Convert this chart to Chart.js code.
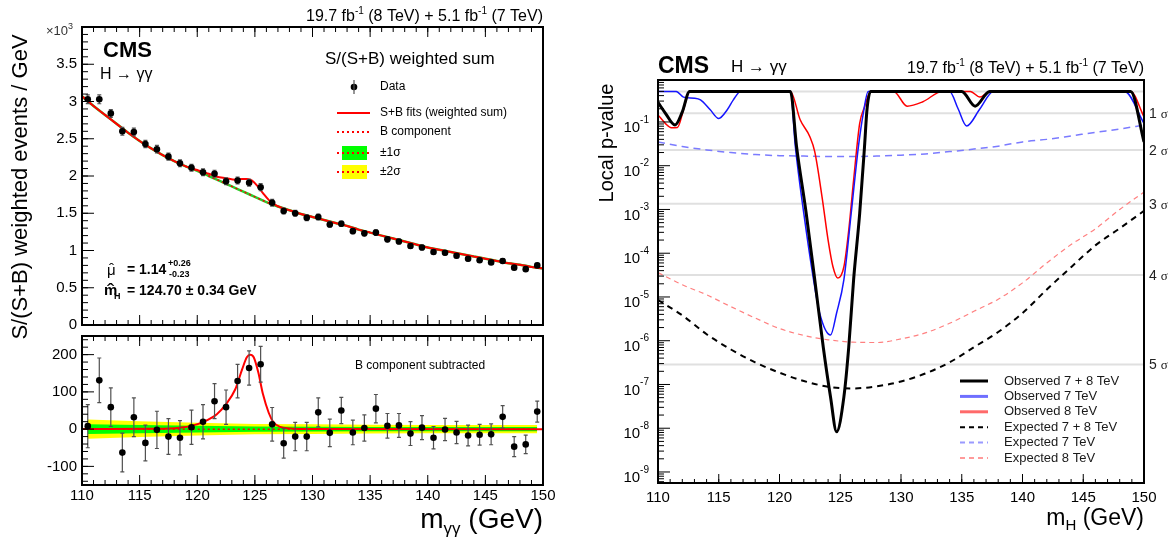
<!DOCTYPE html>
<html>
<head>
<meta charset="utf-8">
<script src="https://cdn.jsdelivr.net/npm/chart.js@4.4.0/dist/chart.umd.min.js"></script>
<style>
    html, body { margin: 0; padding: 0; background: #fff; }
    #page { position: relative; width: 1171px; height: 541px; overflow: hidden; background: #fff; }
    canvas { position: absolute; }
    #topChart { left: 0; top: 0; }
    #ratioChart { left: 0; top: 330px; }
    #pvalChart { left: 585px; top: 0; }
</style>
</head>
<body>
<div id="page">
    <canvas id="topChart" width="560" height="350"></canvas>
    <canvas id="ratioChart" width="560" height="211"></canvas>
    <canvas id="pvalChart" width="586" height="541"></canvas>
</div>
<script>
const FONT = '"Liberation Sans", Arial, Helvetica, sans-serif';

// ---- left: S/(S+B) weighted diphoton mass, 1 GeV bins ----
const massBins = [110.5, 111.5, 112.5, 113.5, 114.5, 115.5, 116.5, 117.5, 118.5, 119.5,
    120.5, 121.5, 122.5, 123.5, 124.5, 125.5, 126.5, 127.5, 128.5, 129.5,
    130.5, 131.5, 132.5, 133.5, 134.5, 135.5, 136.5, 137.5, 138.5, 139.5,
    140.5, 141.5, 142.5, 143.5, 144.5, 145.5, 146.5, 147.5, 148.5, 149.5];
// x10^3 weighted events / GeV
const weightedEvents = [3.03, 3.03, 2.84, 2.60, 2.59, 2.43, 2.36, 2.26, 2.17, 2.11,
    2.05, 2.03, 1.93, 1.94, 1.91, 1.85, 1.64, 1.53, 1.50, 1.44,
    1.45, 1.35, 1.36, 1.26, 1.23, 1.24, 1.15, 1.12, 1.06, 1.04,
    0.98, 0.97, 0.93, 0.89, 0.87, 0.84, 0.86, 0.77, 0.75, 0.80];
// B component subtracted, events / GeV
const bkgSubtracted = [8, 131, 59, -63, 32, -37, -2, -20, -23, 5,
    20, 75, 59, 129, 164, 174, 13, -38, -20, -20,
    45, -10, 50, -9, 3, 55, 9, 10, -12, 4,
    -23, -1, -9, -17, -15, -14, 33, -47, -41, 47];
const statErrors = [58, 60, 52, 52, 52, 48, 50, 48, 46, 46,
    46, 47, 46, 45, 46, 48, 45, 40, 38, 38,
    39, 37, 35, 33, 35, 38, 33, 32, 32, 32,
    30, 30, 30, 28, 28, 28, 30, 27, 25, 28];

const bkgMass = [110, 111, 112, 113, 114, 115, 116, 117, 118, 119, 120, 121, 122, 123, 124, 125,
    126, 127, 128, 129, 130, 131, 132, 133, 134, 135, 136, 137, 138, 139, 140, 141, 142,
    143, 144, 145, 146, 147, 148, 149, 150];
const bkgFit = [3.07, 2.94, 2.82, 2.70, 2.58, 2.47, 2.37, 2.28, 2.20, 2.13, 2.07, 2.00, 1.93,
    1.86, 1.79, 1.72, 1.65, 1.59, 1.54, 1.49, 1.45, 1.41, 1.37, 1.33, 1.28, 1.24, 1.20,
    1.16, 1.12, 1.08, 1.04, 1.01, 0.98, 0.95, 0.92, 0.89, 0.86, 0.83, 0.81, 0.78, 0.76];

const fitMass = [110, 111, 112, 113, 114, 115, 116, 117, 118, 119, 120,
    120.5, 121, 121.7, 122.5, 123.3, 123.9, 124.3, 124.6, 124.9, 125.3, 125.7, 126.2,
    126.6, 127.2, 128, 129,
    130, 131, 132, 133, 134, 135, 136, 137, 138, 139, 140, 141, 142, 143, 144, 145,
    146, 147, 148, 149, 150];
const sbFit = [3.07, 2.94, 2.82, 2.70, 2.58, 2.47, 2.37, 2.28, 2.20, 2.13, 2.08,
    2.05, 2.03, 1.99, 1.97, 1.95, 1.96, 1.96, 1.95, 1.92, 1.85, 1.77, 1.68,
    1.63, 1.58, 1.54, 1.49,
    1.45, 1.41, 1.37, 1.33, 1.28, 1.24, 1.20, 1.16, 1.12, 1.08, 1.04, 1.01, 0.98, 0.95,
    0.92, 0.89, 0.86, 0.83, 0.81, 0.78, 0.76];

const sigMass = [110, 116, 117.6, 118.5, 119.4, 120.5, 121.7, 122.5, 123.3, 123.9, 124.3,
    124.6, 124.9, 125.3, 125.7, 126.2, 126.6, 127.2, 128, 129, 150];
const sigFit = [0, 1, 2, 4, 8, 19, 40, 67, 107, 161, 193, 200, 193, 152, 94, 44, 19, 6, 2, 0.5, 0];

const bandMass = [110.5, 115, 120, 125, 130, 135, 140, 145, 149.5];
const band1Sigma = [13, 11, 9, 7, 6.5, 6, 5.5, 5.5, 5.5];
const band2Sigma = [26, 21, 17, 14, 13, 12, 11, 11, 11];

// ---- right: local p-value ----
const obs78Mass = [110, 110.6, 111.4, 112.0, 112.6, 120.9, 121.4, 122.2, 122.9, 123.6, 124.2,
    124.7, 125.3, 125.7, 126.1, 126.6, 127.0, 127.2, 127.5, 135.0, 136.1, 137.3, 148.9, 150];
const obs78P = [0.28, 0.16, 0.085, 0.17, 0.5, 0.5, 0.028, 8.1e-4, 2.5e-5, 7.2e-7, 5.2e-8,
    8.3e-9, 5.2e-8, 7.2e-7, 2.5e-5, 8.1e-4, 0.028, 0.19, 0.5, 0.5, 0.23, 0.5, 0.5, 0.035];

const obs7Mass = [110, 111.5, 112.1, 113.0, 113.5, 114.3, 115.0, 115.7, 116.2, 116.8, 120.9,
    121.3, 122.0, 122.8, 123.3, 124.2, 124.7, 125.3, 125.9, 126.5, 126.9, 127.3, 134.0,
    134.7, 135.4, 136.5, 137.6, 148.4, 150];
const obs7P = [0.5, 0.5, 0.37, 0.35, 0.32, 0.19, 0.12, 0.19, 0.32, 0.5, 0.5,
    0.028, 8.1e-4, 2.5e-5, 4.3e-6, 1.35e-6, 4.3e-6, 2.5e-5, 8.1e-4, 0.028, 0.16, 0.5, 0.5,
    0.2, 0.081, 0.2, 0.5, 0.5, 0.093];

const obs8Mass = [110, 110.6, 111.1, 111.6, 112.1, 112.6, 120.9, 121.7, 122.5, 122.9, 123.5,
    124.0, 124.4, 124.8, 125.3, 125.7, 126.1, 126.6, 127.0, 127.5, 129.4, 130.5, 131.8,
    133.4, 135.7, 136.5, 137.3, 148.9, 150];
const obs8P = [0.145, 0.093, 0.074, 0.075, 0.19, 0.5, 0.5, 0.112, 0.046, 0.021, 1.95e-3,
    2.0e-4, 4.9e-5, 2.7e-5, 4.9e-5, 3.4e-4, 4.7e-3, 0.093, 0.22, 0.5, 0.5, 0.23, 0.29,
    0.5, 0.5, 0.37, 0.5, 0.5, 0.13];

const expMass = [110, 112, 114, 116, 118, 120, 122, 124, 126, 128, 130, 132, 134, 136, 138,
    140, 142, 144, 146, 148, 150];
const exp78P = [8.5e-6, 3.8e-6, 1.41e-6, 6.3e-7, 3.2e-7, 1.86e-7, 1.2e-7, 8.9e-8, 8.1e-8,
    9.1e-8, 1.17e-7, 1.78e-7, 3.2e-7, 7.1e-7, 1.58e-6, 4.3e-6, 1.48e-5, 4.8e-5, 1.51e-4,
    3.7e-4, 9.3e-4];
const exp7P = [0.035, 0.0275, 0.023, 0.020, 0.018, 0.017, 0.0166, 0.0162, 0.0162, 0.0166,
    0.0174, 0.0186, 0.021, 0.024, 0.028, 0.035, 0.040, 0.048, 0.058, 0.069, 0.085];
const exp8P = [3.6e-5, 1.9e-5, 1.12e-5, 6.0e-6, 3.3e-6, 1.9e-6, 1.32e-6, 1.05e-6, 9.3e-7,
    9.1e-7, 1.1e-6, 1.51e-6, 2.5e-6, 4.7e-6, 8.9e-6, 2.1e-5, 6.0e-5, 1.58e-4, 3.6e-4,
    1.0e-3, 2.5e-3];

const sigmaLevels = [0.5, 0.1587, 0.02275, 1.35e-3, 3.17e-5, 2.87e-7];
const sigmaNames = ['', '1', '2', '3', '4', '5'];

const legendItems = [
    ['Observed 7 + 8 TeV', '#000000', 3, []],
    ['Observed 7 TeV', '#6f6fff', 3, []],
    ['Observed 8 TeV', '#ff6a6a', 3, []],
    ['Expected 7 + 8 TeV', '#000000', 2, [5, 4]],
    ['Expected 7 TeV', '#9a9aff', 2, [5, 4]],
    ['Expected 8 TeV', '#ff9a9a', 2, [5, 4]]
];

function pts(xs, ys) {
    return xs.map((x, i) => ({ x: x, y: ys[i] }));
}

function steps(from, to, step) {
    const out = [];
    for (let i = 0; from + i * step <= to + 1e-9; i++) out.push(+(from + i * step).toFixed(4));
    return out;
}

// draws text made of pieces with their own font and vertical shift
function richText(ctx, parts, x, y, align) {
    let w = 0;
    parts.forEach(p => { ctx.font = p.font; w += ctx.measureText(p.t).width; });
    let cx = align === 'right' ? x - w : (align === 'center' ? x - w / 2 : x);
    ctx.textAlign = 'left';
    ctx.textBaseline = 'alphabetic';
    parts.forEach(p => {
        ctx.font = p.font;
        ctx.fillText(p.t, cx, y + (p.dy || 0));
        cx += ctx.measureText(p.t).width;
    });
}

function lumiText(ctx, x, y, size) {
    const big = size + 'px ' + FONT, small = Math.round(size * 0.62) + 'px ' + FONT;
    const up = -Math.round(size * 0.42);
    richText(ctx, [
        { t: '19.7 fb', font: big }, { t: '-1', font: small, dy: up },
        { t: ' (8 TeV) + 5.1 fb', font: big }, { t: '-1', font: small, dy: up },
        { t: ' (7 TeV)', font: big }
    ], x, y, 'right');
}

function tickMarks(ctx, scale, values, len, side, area) {
    values.forEach(v => {
        const p = scale.getPixelForValue(v);
        ctx.beginPath();
        if (side === 'bottom') { ctx.moveTo(p, area.bottom); ctx.lineTo(p, area.bottom - len); }
        if (side === 'top') { ctx.moveTo(p, area.top); ctx.lineTo(p, area.top + len); }
        if (side === 'left') { ctx.moveTo(area.left, p); ctx.lineTo(area.left + len, p); }
        ctx.stroke();
    });
}

function dottedRed(ctx, x1, x2, y) {
    ctx.save();
    ctx.strokeStyle = '#ff0000';
    ctx.lineWidth = 2;
    ctx.setLineDash([2, 3]);
    ctx.beginPath(); ctx.moveTo(x1, y); ctx.lineTo(x2, y); ctx.stroke();
    ctx.restore();
}

// error bars go right before the markers (dataset 0 is drawn last)
const errorBars = {
    id: 'errorBars',
    beforeDatasetDraw(chart, args, opts) {
        if (args.index !== 0 || !opts.errors) return;
        const { ctx, scales: { x, y } } = chart;
        ctx.save();
        ctx.strokeStyle = '#505050';
        ctx.lineWidth = 1.2;
        chart.data.datasets[0].data.forEach((pt, i) => {
            const px = x.getPixelForValue(pt.x);
            const lo = y.getPixelForValue(pt.y - opts.errors[i] * opts.scale);
            const hi = y.getPixelForValue(pt.y + opts.errors[i] * opts.scale);
            ctx.beginPath();
            ctx.moveTo(px, lo); ctx.lineTo(px, hi);
            ctx.moveTo(px - 2, lo); ctx.lineTo(px + 2, lo);
            ctx.moveTo(px - 2, hi); ctx.lineTo(px + 2, hi);
            ctx.stroke();
        });
        ctx.restore();
    }
};

// frame, inside ticks and y labels of the two left pads
const leftPad = {
    id: 'leftPad',
    afterDatasetsDraw(chart, args, opts) {
        const { ctx, chartArea: a, scales: { x, y } } = chart;
        ctx.save();
        ctx.strokeStyle = '#000';
        ctx.lineWidth = 1;
        tickMarks(ctx, x, steps(110, 150, 1), 5, 'bottom', a);
        tickMarks(ctx, x, steps(110, 150, 5), 10, 'bottom', a);
        tickMarks(ctx, x, steps(110, 150, 1), 5, 'top', a);
        tickMarks(ctx, x, steps(110, 150, 5), 10, 'top', a);
        tickMarks(ctx, y, opts.yMinor, 6, 'left', a);
        tickMarks(ctx, y, opts.yMajor, 12, 'left', a);
        ctx.lineWidth = 2;
        ctx.strokeRect(a.left, a.top, a.right - a.left, a.bottom - a.top);

        ctx.fillStyle = '#000';
        ctx.font = '15px ' + FONT;
        ctx.textAlign = 'right';
        ctx.textBaseline = 'middle';
        opts.yLabels.forEach(v => ctx.fillText(String(v), a.left - 5, y.getPixelForValue(v)));
        ctx.restore();
        if (opts.extra) opts.extra(chart);
    }
};

function topExtras(chart) {
    const ctx = chart.ctx;
    ctx.save();
    ctx.fillStyle = '#000';
    lumiText(ctx, 543, 21, 16);

    // x10^3
    ctx.fillStyle = '#333';
    richText(ctx, [{ t: '\u00d710', font: '13px ' + FONT }, { t: '3', font: '9px ' + FONT, dy: -6 }], 46, 35, 'left');
    ctx.fillStyle = '#000';

    ctx.font = 'bold 22px ' + FONT;
    ctx.textAlign = 'left';
    ctx.fillText('CMS', 103, 57);
    ctx.font = '16px ' + FONT;
    ctx.fillText('H \u2192 \u03b3\u03b3', 100, 79);

    ctx.font = '17px ' + FONT;
    ctx.fillText('S/(S+B) weighted sum', 325, 64);

    // legend
    ctx.font = '12px ' + FONT;
    ctx.textBaseline = 'middle';
    ctx.fillText('Data', 380, 87);
    ctx.fillText('S+B fits (weighted sum)', 380, 113);
    ctx.fillText('B component', 380, 132);
    ctx.fillText('\u00b11\u03c3', 380, 153);
    ctx.fillText('\u00b12\u03c3', 380, 172);
    ctx.beginPath(); ctx.arc(354, 87, 3.3, 0, Math.PI * 2); ctx.fill();
    ctx.strokeStyle = '#505050'; ctx.lineWidth = 1.2;
    ctx.beginPath(); ctx.moveTo(354, 80); ctx.lineTo(354, 94); ctx.stroke();
    ctx.strokeStyle = '#ff0000'; ctx.lineWidth = 2;
    ctx.beginPath(); ctx.moveTo(337, 113); ctx.lineTo(370, 113); ctx.stroke();
    dottedRed(ctx, 337, 370, 132);
    ctx.fillStyle = '#00ff00'; ctx.fillRect(342, 146, 25, 14);
    dottedRed(ctx, 337, 370, 153);
    ctx.fillStyle = '#ffff00'; ctx.fillRect(342, 165, 25, 14);
    dottedRed(ctx, 337, 370, 172);

    // fit result
    ctx.fillStyle = '#000';
    ctx.textBaseline = 'alphabetic';
    ctx.font = '15px ' + FONT;
    ctx.fillText('\u03bc', 107, 275);
    ctx.fillText('\u02c6', 109, 274);
    ctx.font = 'bold 14px ' + FONT;
    ctx.fillText('= 1.14', 127, 274);
    ctx.font = 'bold 9px ' + FONT;
    ctx.fillText('+0.26', 168, 266);
    ctx.fillText('-0.23', 169, 277);
    ctx.font = 'bold 15px ' + FONT;
    ctx.fillText('m', 104, 295);
    ctx.font = '22px ' + FONT;
    ctx.fillText('\u02c6', 107, 299);
    ctx.font = 'bold 9px ' + FONT;
    ctx.fillText('H', 114, 299);
    ctx.font = 'bold 14px ' + FONT;
    ctx.fillText('= 124.70 \u00b1 0.34 GeV', 127, 295);

    // y title
    ctx.translate(21, 187);
    ctx.rotate(-Math.PI / 2);
    ctx.font = '22px ' + FONT;
    ctx.textAlign = 'center';
    ctx.textBaseline = 'middle';
    ctx.fillText('S/(S+B) weighted events / GeV', 0, 0);
    ctx.restore();
}

function ratioExtras(chart) {
    const { ctx, chartArea: a, scales: { x } } = chart;
    ctx.save();
    ctx.fillStyle = '#000';
    ctx.font = '15px ' + FONT;
    ctx.textAlign = 'center';
    ctx.textBaseline = 'middle';
    steps(110, 150, 5).forEach(v => ctx.fillText(String(v), x.getPixelForValue(v), a.bottom + 11));
    ctx.font = '12px ' + FONT;
    ctx.textAlign = 'left';
    ctx.fillText('B component subtracted', 355, 36);
    richText(ctx, [
        { t: 'm', font: '28px ' + FONT },
        { t: '\u03b3\u03b3', font: '17px ' + FONT, dy: 6 },
        { t: ' (GeV)', font: '28px ' + FONT }
    ], a.right, 198, 'right');
    ctx.restore();
}

const commonOpts = {
    responsive: false,
    animation: false,
    events: [],
    plugins: { legend: { display: false }, tooltip: { enabled: false } }
};

new Chart(document.getElementById('topChart'), {
    type: 'line',
    data: {
        datasets: [
            { data: pts(massBins, weightedEvents), showLine: false, pointRadius: 3.3,
              pointBackgroundColor: '#000', pointBorderColor: '#000', pointBorderWidth: 0 },
            { data: pts(fitMass, sbFit), borderColor: '#ff0000', borderWidth: 2, pointRadius: 0,
              cubicInterpolationMode: 'monotone' },
            { data: pts(bkgMass, bkgFit), borderColor: '#ff0000', borderWidth: 1.5, borderDash: [2, 3],
              pointRadius: 0, cubicInterpolationMode: 'monotone' },
            { data: pts(bkgMass, bkgFit), borderColor: '#2ccc2c', borderWidth: 2.5, pointRadius: 0,
              cubicInterpolationMode: 'monotone' }
        ]
    },
    options: Object.assign({}, commonOpts, {
        layout: { padding: { left: 82, right: 17, top: 27, bottom: 25 } },
        scales: {
            x: { type: 'linear', min: 110, max: 150, display: false },
            y: { type: 'linear', min: 0, max: 4, display: false }
        },
        plugins: Object.assign({}, commonOpts.plugins, {
            errorBars: { errors: statErrors, scale: 0.001 },
            leftPad: {
                yMajor: steps(0, 4, 0.5), yMinor: steps(0, 4, 0.1),
                yLabels: [0, 0.5, 1, 1.5, 2, 2.5, 3, 3.5], extra: topExtras
            }
        })
    }),
    plugins: [errorBars, leftPad]
});

new Chart(document.getElementById('ratioChart'), {
    type: 'line',
    data: {
        datasets: [
            { data: pts(massBins, bkgSubtracted), showLine: false, pointRadius: 3.3,
              pointBackgroundColor: '#000', pointBorderColor: '#000', pointBorderWidth: 0 },
            { data: pts(sigMass, sigFit), borderColor: '#ff0000', borderWidth: 2, pointRadius: 0,
              cubicInterpolationMode: 'monotone' },
            { data: bandMass.map(m => ({ x: m, y: 0 })), borderColor: '#ff0000', borderWidth: 1.5,
              borderDash: [2, 3], pointRadius: 0 },
            { data: pts(bandMass, band1Sigma), borderWidth: 0, pointRadius: 0, fill: '+1',
              backgroundColor: '#00ff00' },
            { data: bandMass.map((m, i) => ({ x: m, y: -band1Sigma[i] })), borderWidth: 0, pointRadius: 0 },
            { data: pts(bandMass, band2Sigma), borderWidth: 0, pointRadius: 0, fill: '+1',
              backgroundColor: '#ffff00' },
            { data: bandMass.map((m, i) => ({ x: m, y: -band2Sigma[i] })), borderWidth: 0, pointRadius: 0 }
        ]
    },
    options: Object.assign({}, commonOpts, {
        layout: { padding: { left: 82, right: 17, top: 6, bottom: 56 } },
        scales: {
            x: { type: 'linear', min: 110, max: 150, display: false },
            y: { type: 'linear', min: -150, max: 250, display: false }
        },
        plugins: Object.assign({}, commonOpts.plugins, {
            errorBars: { errors: statErrors, scale: 1 },
            leftPad: {
                yMajor: steps(-100, 200, 100), yMinor: steps(-140, 240, 20),
                yLabels: [-100, 0, 100, 200], extra: ratioExtras
            }
        })
    }),
    plugins: [errorBars, leftPad]
});

const pvalPad = {
    id: 'pvalPad',
    beforeDatasetsDraw(chart) {
        const { ctx, chartArea: a, scales: { y } } = chart;
        ctx.save();
        ctx.strokeStyle = '#e0e0e0';
        ctx.lineWidth = 2;
        sigmaLevels.forEach(p => {
            const py = y.getPixelForValue(p);
            ctx.beginPath(); ctx.moveTo(a.left, py); ctx.lineTo(a.right, py); ctx.stroke();
        });
        ctx.restore();
    },
    afterDatasetsDraw(chart) {
        const { ctx, chartArea: a, scales: { x, y } } = chart;
        ctx.save();
        ctx.strokeStyle = '#000';
        ctx.lineWidth = 1;
        tickMarks(ctx, x, steps(110, 150, 1), 4, 'bottom', a);
        tickMarks(ctx, x, steps(110, 150, 5), 9, 'bottom', a);
        const minor = [], major = [];
        for (let n = -10; n <= -1; n++) {
            for (let k = 1; k <= 9; k++) {
                const v = k * Math.pow(10, n);
                if (v < y.min || v > y.max) continue;
                (k === 1 ? major : minor).push(v);
            }
        }
        tickMarks(ctx, y, minor, 6, 'left', a);
        tickMarks(ctx, y, major, 12, 'left', a);
        ctx.lineWidth = 2;
        ctx.strokeRect(a.left, a.top, a.right - a.left, a.bottom - a.top);

        ctx.fillStyle = '#000';
        ctx.font = '15px ' + FONT;
        ctx.textAlign = 'center';
        ctx.textBaseline = 'middle';
        steps(110, 150, 5).forEach(v => ctx.fillText(String(v), x.getPixelForValue(v), a.bottom + 15));

        ctx.textAlign = 'right';
        major.forEach(v => {
            const py = y.getPixelForValue(v);
            const sup = String(Math.round(Math.log10(v)));
            ctx.font = '10px ' + FONT;
            const sw = ctx.measureText(sup).width;
            ctx.fillText(sup, a.left - 9, py - 2);
            ctx.font = '15px ' + FONT;
            ctx.fillText('10', a.left - 9 - sw, py + 6);
        });

        ctx.fillStyle = '#222';
        sigmaLevels.forEach((p, i) => {
            if (!sigmaNames[i]) return;
            richText(ctx, [
                { t: sigmaNames[i] + ' ', font: '14px ' + FONT },
                { t: '\u03c3', font: '13px "Liberation Serif", serif' }
            ], a.right + 5, y.getPixelForValue(p) + 5, 'left');
        });

        // legend
        ctx.font = '13px ' + FONT;
        legendItems.forEach((item, i) => {
            const ly = 381 + i * 15.4;
            ctx.save();
            ctx.strokeStyle = item[1];
            ctx.lineWidth = item[2];
            ctx.setLineDash(item[3]);
            ctx.beginPath(); ctx.moveTo(375, ly); ctx.lineTo(403, ly); ctx.stroke();
            ctx.restore();
            ctx.fillStyle = '#1a1a1a';
            ctx.font = '13px ' + FONT;
            ctx.textAlign = 'left';
            ctx.textBaseline = 'middle';
            ctx.fillText(item[0], 419, ly);
        });

        // header
        ctx.fillStyle = '#000';
        ctx.textBaseline = 'alphabetic';
        ctx.textAlign = 'left';
        ctx.font = 'bold 23px ' + FONT;
        ctx.fillText('CMS', a.left, 73);
        ctx.font = '17px ' + FONT;
        ctx.fillText('H \u2192 \u03b3\u03b3', 146, 72);
        lumiText(ctx, a.right, 73, 16);

        richText(ctx, [
            { t: 'm', font: '23px ' + FONT },
            { t: 'H', font: '15px ' + FONT, dy: 5 },
            { t: ' (GeV)', font: '23px ' + FONT }
        ], a.right, 525, 'right');

        ctx.translate(22, 143);
        ctx.rotate(-Math.PI / 2);
        ctx.font = '20px ' + FONT;
        ctx.textAlign = 'center';
        ctx.textBaseline = 'middle';
        ctx.fillText('Local p-value', 0, 0);
        ctx.restore();
    }
};

new Chart(document.getElementById('pvalChart'), {
    type: 'line',
    data: {
        datasets: [
            { data: pts(obs78Mass, obs78P), borderColor: '#000000', borderWidth: 3 },
            { data: pts(obs7Mass, obs7P), borderColor: '#1515ff', borderWidth: 1.5 },
            { data: pts(obs8Mass, obs8P), borderColor: '#ff0000', borderWidth: 1.5 },
            { data: pts(expMass, exp78P), borderColor: '#000000', borderWidth: 2, borderDash: [6, 5] },
            { data: pts(expMass, exp7P), borderColor: '#7b7bff', borderWidth: 1.5, borderDash: [7, 5] },
            { data: pts(expMass, exp8P), borderColor: '#ff8080', borderWidth: 1.2, borderDash: [5, 4] }
        ].map(d => Object.assign(d, { pointRadius: 0, cubicInterpolationMode: 'monotone' }))
    },
    options: Object.assign({}, commonOpts, {
        layout: { padding: { left: 73, right: 27, top: 80, bottom: 58 } },
        scales: {
            x: { type: 'linear', min: 110, max: 150, display: false },
            y: { type: 'logarithmic', min: 5.6e-10, max: 0.91, display: false }
        }
    }),
    plugins: [pvalPad]
});
</script>
</body>
</html>
